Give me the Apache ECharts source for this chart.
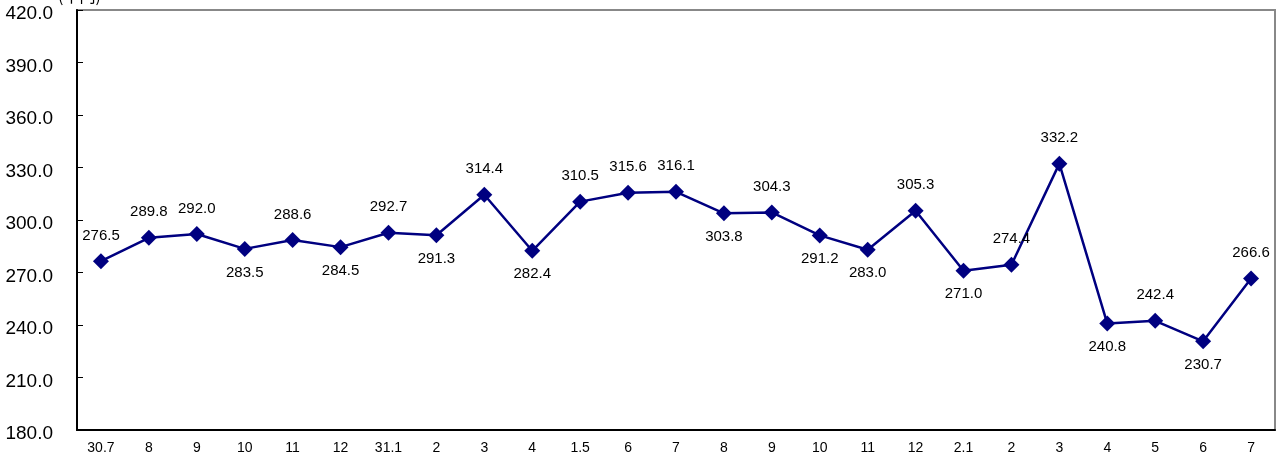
<!DOCTYPE html>
<html>
<head>
<meta charset="utf-8">
<script src="https://cdn.jsdelivr.net/npm/echarts@6/dist/echarts.min.js"></script>
<style>
  html, body { margin: 0; padding: 0; background: #fff; }
  #chart { width: 1288px; height: 457px; }
</style>
</head>
<body>
<div id="chart"></div>
<script>
// month labels (year.month where the year changes)
var categories = ['30.7', '8', '9', '10', '11', '12', '31.1', '2', '3', '4', '1.5', '6', '7',
  '8', '9', '10', '11', '12', '2.1', '2', '3', '4', '5', '6', '7']
var values = [276.5, 289.8, 292.0, 283.5, 288.6, 284.5, 292.7, 291.3, 314.4, 282.4, 310.5, 315.6, 316.1,
  303.8, 304.3, 291.2, 283.0, 305.3, 271.0, 274.4, 332.2, 240.8, 242.4, 230.7, 266.6]
// which labels sit under the point
var labelBelow = [0, 0, 0, 1, 0, 1, 0, 1, 0, 1, 0, 0, 0, 1, 0, 1, 1, 0, 1, 0, 0, 1, 0, 1, 0]

var myChart = echarts.init(document.getElementById('chart'))

var seriesData = values.map(function (v, i) {
  return {
    value: v,
    label: { position: labelBelow[i] ? 'bottom' : 'top', distance: labelBelow[i] ? 8 : 10 }
  }
})

var option = {
  animation: false,
  textStyle: { fontFamily: 'Liberation Sans, Arial, sans-serif' },
  grid: {
    left: 77,
    right: 13,
    top: 10,
    bottom: 27,
    show: true,
    borderColor: '#888',
    borderWidth: 2
  },
  graphic: [
    {
      type: 'text',
      left: 58,
      top: -12,
      style: { text: '(千円)', font: '16px "Noto Sans CJK JP"', fill: '#000' }
    }
  ],
  xAxis: {
    type: 'category',
    data: categories,
    boundaryGap: true,
    axisLine: { lineStyle: { color: '#000', width: 2 } },
    axisTick: { inside: true, length: 5, lineStyle: { color: '#000' } },
    axisLabel: { color: '#000', fontSize: 14, margin: 11 }
  },
  yAxis: {
    type: 'value',
    min: 180,
    max: 420,
    interval: 30,
    axisLine: { show: true, lineStyle: { color: '#000', width: 2 } },
    axisTick: { show: true, inside: true, length: 6, lineStyle: { color: '#000' } },
    splitLine: { show: false },
    axisLabel: {
      color: '#000',
      margin: 24,
      formatter: function (v) { return '{n|' + v.toFixed(1) + '}' },
      rich: {
        n: { fontSize: 19, color: '#000', padding: [8, 0, 0, 0] }
      }
    }
  },
  series: [
    {
      type: 'line',
      data: seriesData,
      symbol: 'diamond',
      symbolSize: 16,
      itemStyle: { color: '#000080' },
      lineStyle: { color: '#000080', width: 2.5 },
      label: {
        show: true,
        color: '#000',
        fontSize: 15,
        formatter: function (p) { return p.value.toFixed(1) }
      }
    }
  ]
}

myChart.setOption(option)
window.addEventListener('resize', function () { myChart.resize() })
</script>
</body>
</html>
